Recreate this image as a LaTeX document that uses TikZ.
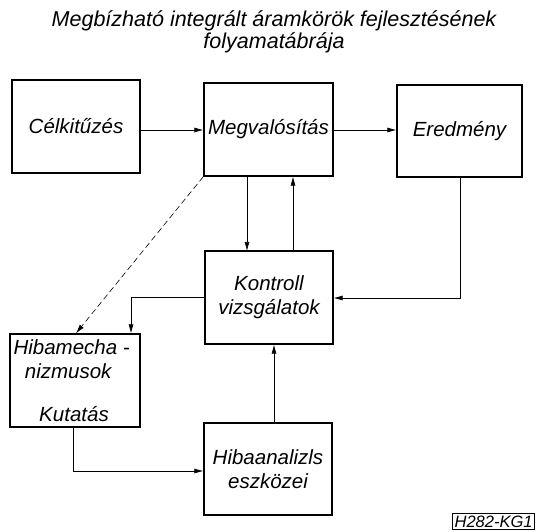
\documentclass[tikz,border=0pt]{standalone}
\usepackage{fontspec}
\setmainfont{Liberation Sans}
\usetikzlibrary{arrows.meta}
\begin{document}
\begin{tikzpicture}[x=1pt,y=-1pt,
  blk/.style={draw,line width=1.4pt,inner sep=0pt,font=\itshape\fontsize{20.5}{24}\selectfont,align=center},
  conn/.style={line width=0.6pt,-{Latex[length=9pt,width=5pt]}},
  lbl/.style={font=\itshape\fontsize{20.5}{24}\selectfont,align=center}]
\useasboundingbox (0,0) rectangle (536,532);
\fill[white] (0,0) rectangle (536,532);
\node[lbl,font=\itshape\fontsize{21.5}{22}\selectfont] (title) at (274,32) {Megbízható integrált áramkörök fejlesztésének\\folyamatábrája};
\node[blk,minimum width=128pt,minimum height=93pt] (cel) at (76,126.5) {Célkitűzés};
\node[blk,minimum width=129pt,minimum height=93pt] (meg) at (268.5,129.5) {Megvalósítás};
\node[blk,minimum width=125pt,minimum height=92pt] (ere) at (459.5,131) {Eredmény};
\node[blk,minimum width=128pt,minimum height=93pt] (kon) at (269,297.5) {Kontroll\\vizsgálatok};
\node[blk,minimum width=130pt,minimum height=93pt] (hme) at (75,380.5) {};
\node[lbl,anchor=north west,align=left] (hmet) at (10,336) {Hibamecha -\\\ \ nizmusok};
\node[lbl] (hmek) at (74,414) {Kutatás};
\node[blk,minimum width=128pt,minimum height=92pt] (han) at (268,469) {Hibaanalizls\\eszközei};
\node[draw,line width=0.9pt,inner sep=2pt,font=\itshape\fontsize{16.5}{17}\selectfont,anchor=south east] (code) at (535,530) {H282-KG1};
\draw[conn] (cel.east |- 0,130) -- (meg.west |- 0,130);
\draw[conn] (meg.east |- 0,130) -- (ere.west |- 0,130);
\draw[conn] (247,176) coordinate (m1) -- (247,251) coordinate (k1);
\draw[conn] (kon.north -| 293,0) -- (meg.south -| 293,0);
\draw[conn] (ere.south -| 460,0) |- (kon.east |- 0,298);
\draw[conn] (kon.west |- 0,297) -| (hme.north -| 131,0);
\draw[conn,dash pattern=on 6pt off 3.5pt] (meg.south west) -- (hme.north -| 76,0);
\draw[conn] (hme.south -| 73,0) |- (han.west |- 0,471);
\draw[conn] (han.north -| 274,0) -- (kon.south -| 274,0);
\end{tikzpicture}
\end{document}
